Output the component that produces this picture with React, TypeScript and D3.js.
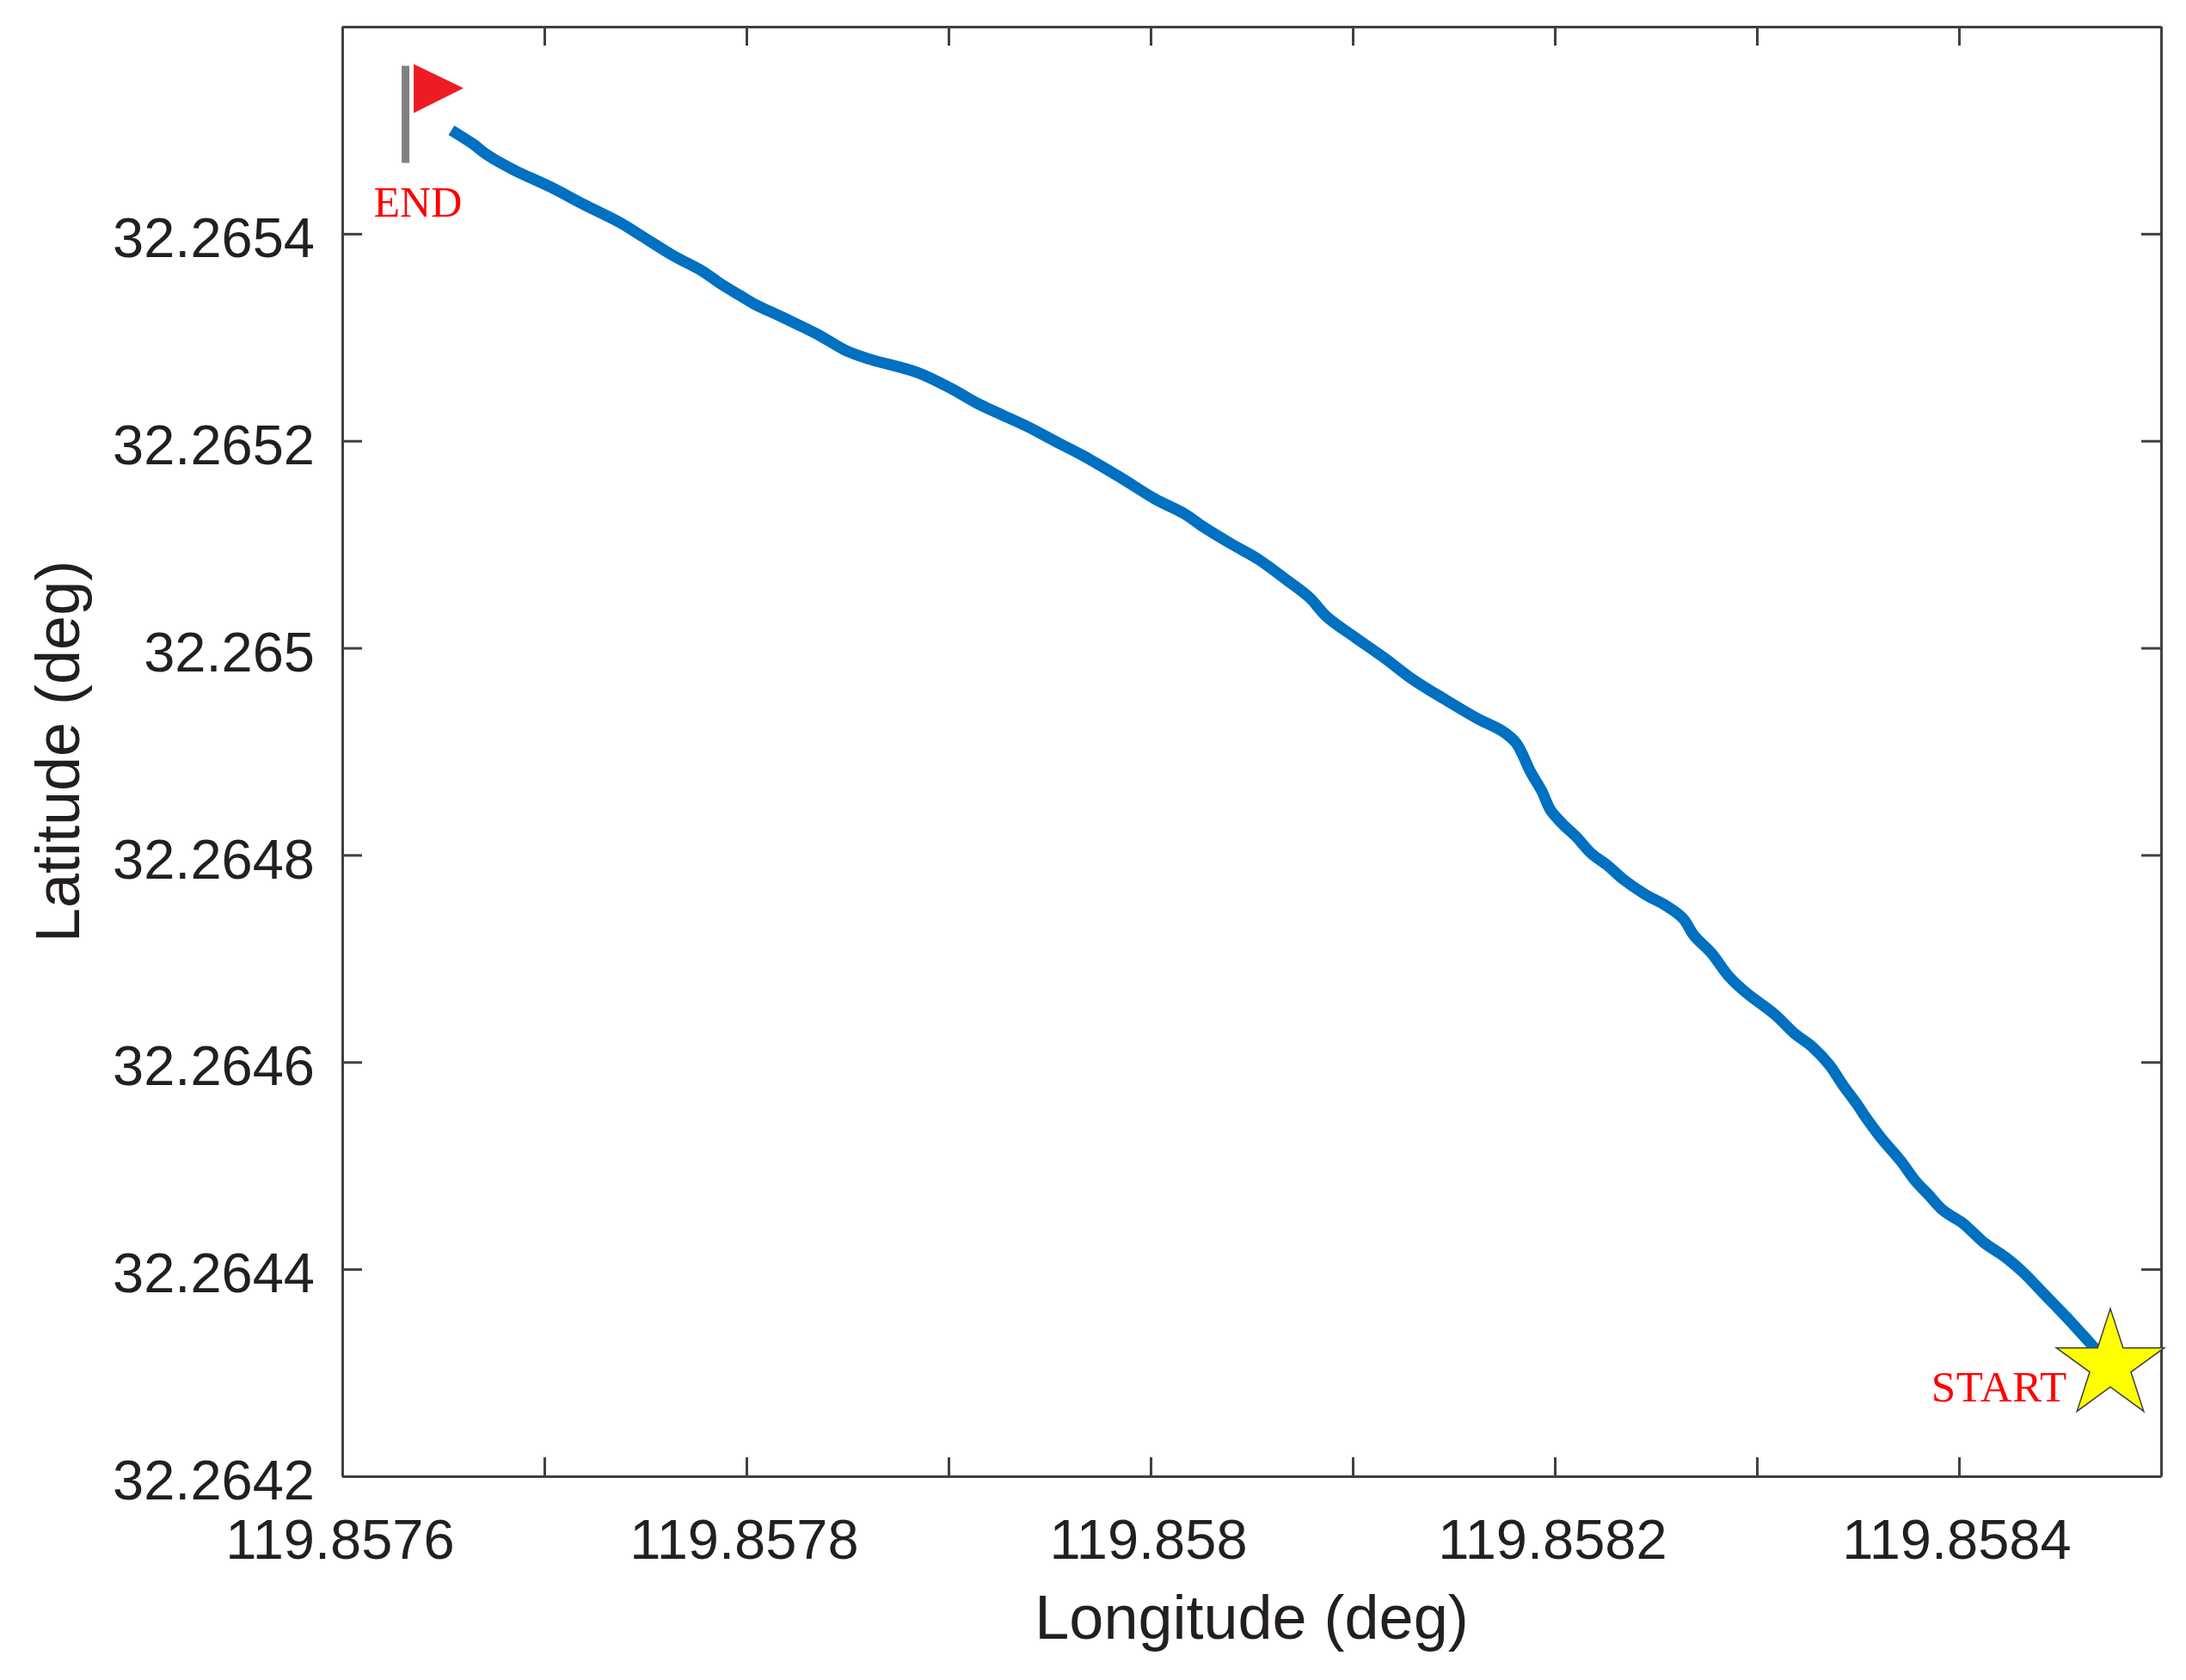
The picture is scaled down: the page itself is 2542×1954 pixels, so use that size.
import React, { useEffect, useRef } from "react";
import * as d3 from "d3";

const width = 2542;
const height = 1954;
const margin = { top: 31, right: 29, bottom: 237, left: 398 };

const xDomain = [119.8576, 119.8585];
const yDomain = [32.2642, 32.2656];
const xTicks = [119.8576, 119.8577, 119.8578, 119.8579, 119.858, 119.8581, 119.8582, 119.8583, 119.8584, 119.8585];
const xTickLabels = ["119.8576", "", "119.8578", "", "119.858", "", "119.8582", "", "119.8584", ""];
const yTicks = [32.2642, 32.2644, 32.2646, 32.2648, 32.265, 32.2652, 32.2654, 32.2656];
const yTickLabels = ["32.2642", "32.2644", "32.2646", "32.2648", "32.265", "32.2652", "32.2654", ""];

// track, from the END point to the START point
const longitude = [
  119.857654, 119.8576647, 119.8576719, 119.8576847, 119.857703, 119.85772, 119.857737, 119.8577468,
  119.8577638, 119.8577783, 119.8577868, 119.8577966, 119.8578038, 119.8578191, 119.8578349, 119.8578489,
  119.8578604, 119.8578847, 119.8579017, 119.8579145, 119.8579272, 119.85794, 119.8579528, 119.8579668,
  119.8579851, 119.8580021, 119.8580166, 119.8580264, 119.8580404, 119.8580532, 119.8580677, 119.8580787,
  119.8580872, 119.8581017, 119.8581157, 119.8581298, 119.8581455, 119.8581613, 119.858174, 119.8581809,
  119.8581881, 119.8581936, 119.8581979, 119.8582038, 119.8582106, 119.8582179, 119.8582264, 119.8582336,
  119.8582447, 119.8582549, 119.8582634, 119.8582689, 119.8582774, 119.858286, 119.8582945, 119.8583085,
  119.8583187, 119.8583272, 119.8583357, 119.8583426, 119.8583498, 119.858354, 119.8583613, 119.8583711,
  119.8583783, 119.8583851, 119.8583923, 119.8584021, 119.8584123, 119.8584234, 119.8584319, 119.8584421,
  119.8584532, 119.858466, 119.8584711,
];
const latitude = [
  32.2655, 32.2654867, 32.2654759, 32.2654618, 32.2654452, 32.2654278, 32.2654112, 32.2653995,
  32.2653788, 32.2653638, 32.2653522, 32.2653406, 32.2653323, 32.2653182, 32.2653032, 32.2652875,
  32.2652792, 32.2652659, 32.2652501, 32.265236, 32.2652244, 32.2652128, 32.2651995, 32.2651854,
  32.2651646, 32.2651439, 32.2651297, 32.2651165, 32.2650999, 32.2650857, 32.265065, 32.2650484,
  32.2650301, 32.2650094, 32.2649903, 32.2649695, 32.2649504, 32.2649322, 32.2649197, 32.2649081,
  32.2648799, 32.2648616, 32.2648433, 32.2648301, 32.2648176, 32.2648018, 32.2647894, 32.2647769,
  32.264762, 32.2647512, 32.2647388, 32.2647222, 32.2647055, 32.2646831, 32.2646674, 32.2646466,
  32.2646275, 32.2646151, 32.2645976, 32.2645777, 32.2645586, 32.2645462, 32.2645271, 32.2645047,
  32.2644856, 32.2644715, 32.2644565, 32.2644441, 32.2644258, 32.2644109, 32.2643967, 32.264376,
  32.2643536, 32.2643262, 32.2643154,
];

const startPoint = [119.8584749, 32.2643071];
const endPoint = [119.8576313, 32.2654684];

const axisColor = "#404040";
const textColor = "#231f20";
const sans = "'Liberation Sans', Arial, sans-serif";
const serif = "'Liberation Serif', 'Times New Roman', serif";

const App = () => {
  const gBottom = useRef(null);
  const gTop = useRef(null);
  const gLeft = useRef(null);
  const gRight = useRef(null);

  const x = d3.scaleLinear(xDomain, [margin.left, width - margin.right]);
  const y = d3.scaleLinear(yDomain, [height - margin.bottom, margin.top]);
  const line = d3
    .line<number>((d, i) => x(longitude[i]), (d) => y(d))
    .curve(d3.curveCatmullRom.alpha(0.5));
  const star = d3.symbol(d3.symbolStar, 4890);

  useEffect(() => {
    const style = (g) => {
      g.selectAll("path").attr("stroke", axisColor).attr("stroke-width", 3);
      g.selectAll("line").attr("stroke", axisColor).attr("stroke-width", 3);
      g.selectAll("text").attr("fill", textColor).attr("font-family", sans).attr("font-size", 65);
    };
    d3.select(gBottom.current)
      .call(
        d3.axisBottom(x).tickValues(xTicks).tickSizeInner(-22).tickSizeOuter(0).tickPadding(50)
          .tickFormat((d, i) => xTickLabels[i])
      )
      .call(style);
    d3.select(gBottom.current).selectAll("text").attr("dx", -3);
    d3.select(gTop.current)
      .call(d3.axisTop(x).tickValues(xTicks).tickSizeInner(-22).tickSizeOuter(0).tickFormat(() => ""))
      .call(style);
    d3.select(gLeft.current)
      .call(
        d3.axisLeft(y).tickValues(yTicks).tickSizeInner(-23).tickSizeOuter(0).tickPadding(32)
          .tickFormat((d, i) => yTickLabels[i])
      )
      .call(style);
    d3.select(gLeft.current).selectAll("text").attr("dy", "0.41em");
    d3.select(gRight.current)
      .call(d3.axisRight(y).tickValues(yTicks).tickSizeInner(-23).tickSizeOuter(0).tickFormat(() => ""))
      .call(style);
  }, []);

  const flagX = x(endPoint[0]);
  const flagY = y(endPoint[1]);
  const starX = x(startPoint[0]);
  const starY = y(startPoint[1]);

  return (
    <svg width={width} height={height} style={{ position: "absolute", left: 0, top: 0, background: "#fff" }}>
      <g ref={gBottom} transform={`translate(0,${height - margin.bottom})`} />
      <g ref={gTop} transform={`translate(0,${margin.top})`} />
      <g ref={gLeft} transform={`translate(${margin.left},0)`} />
      <g ref={gRight} transform={`translate(${width - margin.right},0)`} />

      <path
        d={line(latitude)}
        fill="none"
        stroke="#0070c0"
        strokeWidth={13}
        strokeLinejoin="round"
      />

      <g transform={`translate(${flagX},${flagY})`}>
        <rect x={-4.5} y={-113} width={9} height={113} fill="#808080" />
        <path d="M9.5,-115L67.5,-87L9.5,-58Z" fill="#ed1c24" />
        <text x={-37} y={63} fontFamily={serif} fontSize={50} fill="#ff0000">END</text>
      </g>

      <path
        d={star()}
        transform={`translate(${starX},${starY})`}
        fill="#ffff00"
        stroke="#404040"
        strokeWidth={1.5}
      />
      <text x={starX - 50} y={starY + 42} textAnchor="end" fontFamily={serif} fontSize={51} fill="#ff0000" letterSpacing={0.8}>
        START
      </text>

      <text
        x={(margin.left + width - margin.right) / 2}
        y={1906}
        textAnchor="middle"
        fontFamily={sans}
        fontSize={72}
        fill={textColor}
      >
        Longitude (deg)
      </text>
      <text
        transform={`translate(92,${(margin.top + height - margin.bottom) / 2}) rotate(-90)`}
        textAnchor="middle"
        fontFamily={sans}
        fontSize={72}
        fill={textColor}
      >
        Latitude (deg)
      </text>
    </svg>
  );
};

export default App;
